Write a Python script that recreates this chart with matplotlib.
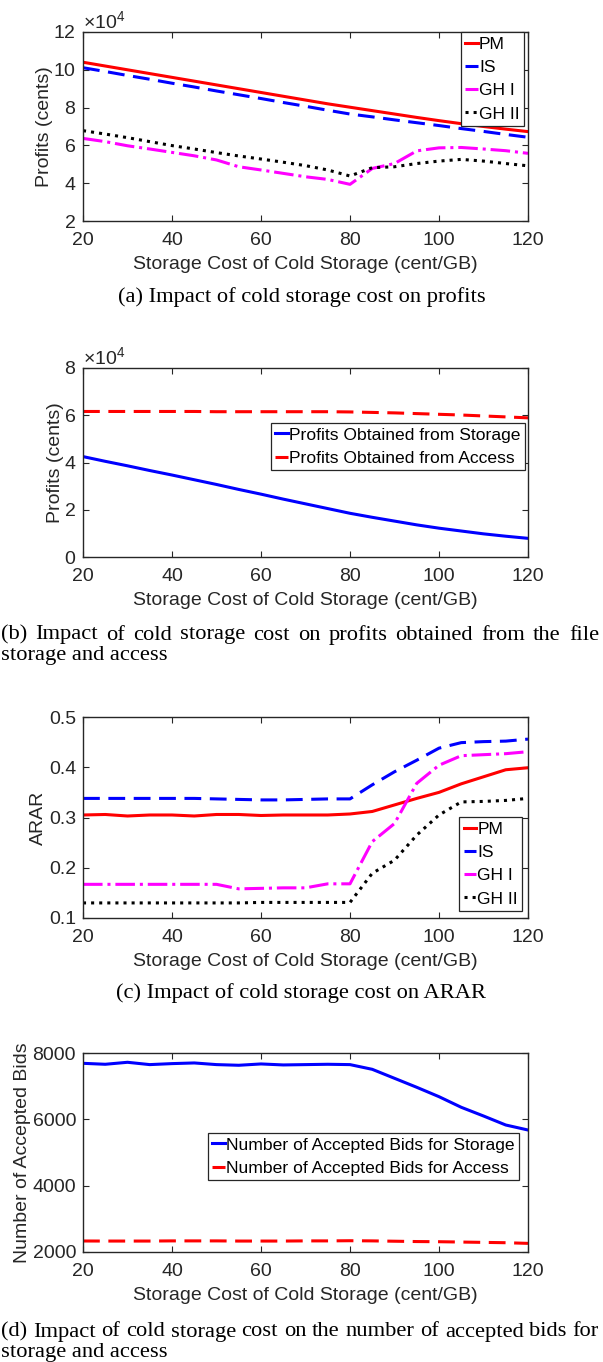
import numpy as np
import matplotlib
matplotlib.use("Agg")
import matplotlib.pyplot as plt

# storage cost of cold storage (cent/GB)
storage_cost = [20, 25, 30, 35, 40, 45, 50, 55, 60, 65, 70,
                75, 80, 85, 90, 95, 100, 105, 110, 115, 120]

# (a) profits, in units of 1e4 cents
pm_profit = [10.40, 10.20, 10.00, 9.80, 9.60, 9.40, 9.20, 9.00, 8.80, 8.60, 8.40,
             8.20, 8.02, 7.84, 7.66, 7.48, 7.31, 7.15, 7.00, 6.86, 6.73]
is_profit = [10.11, 9.91, 9.70, 9.50, 9.29, 9.09, 8.88, 8.68, 8.48, 8.27, 8.07,
             7.86, 7.66, 7.51, 7.35, 7.20, 7.05, 6.89, 6.74, 6.58, 6.43]
gh1_profit = [6.37, 6.20, 5.98, 5.81, 5.63, 5.45, 5.23, 4.87, 4.70, 4.52, 4.34,
              4.20, 3.94, 4.78, 5.04, 5.71, 5.87, 5.89, 5.81, 5.72, 5.58]
gh2_profit = [6.78, 6.60, 6.41, 6.20, 5.99, 5.81, 5.62, 5.44, 5.28, 5.11, 4.93,
              4.70, 4.38, 4.82, 4.87, 5.04, 5.17, 5.26, 5.17, 5.04, 4.92]

# (b) profits from storage / access, in units of 1e4 cents
storage_profit = [4.25, 4.05, 3.86, 3.66, 3.47, 3.27, 3.07, 2.86, 2.66, 2.45, 2.25,
                  2.05, 1.85, 1.68, 1.52, 1.36, 1.22, 1.10, 0.98, 0.88, 0.79]
access_profit = [6.16, 6.16, 6.16, 6.16, 6.16, 6.16, 6.15, 6.15, 6.15, 6.15, 6.15,
                 6.15, 6.14, 6.12, 6.10, 6.07, 6.04, 6.01, 5.97, 5.93, 5.89]

# (c) ARAR
pm_arar = [0.305, 0.306, 0.303, 0.305, 0.305, 0.303, 0.306, 0.306, 0.304, 0.305, 0.305,
           0.305, 0.307, 0.312, 0.325, 0.338, 0.350, 0.367, 0.381, 0.395, 0.399]
is_arar = [0.338, 0.338, 0.338, 0.338, 0.338, 0.338, 0.337, 0.336, 0.335, 0.335, 0.336,
           0.337, 0.337, 0.365, 0.391, 0.414, 0.438, 0.449, 0.451, 0.452, 0.456]
gh1_arar = [0.167, 0.167, 0.167, 0.167, 0.167, 0.167, 0.167, 0.158, 0.159, 0.160, 0.160,
            0.168, 0.168, 0.252, 0.288, 0.368, 0.404, 0.423, 0.425, 0.427, 0.431]
gh2_arar = [0.130, 0.130, 0.130, 0.130, 0.130, 0.130, 0.130, 0.130, 0.131, 0.131, 0.131,
            0.131, 0.131, 0.189, 0.215, 0.265, 0.305, 0.331, 0.332, 0.334, 0.338]

# (d) number of accepted bids
storage_bids = [7689, 7660, 7720, 7650, 7680, 7700, 7650, 7630, 7670, 7640, 7650,
                7660, 7650, 7508, 7237, 6966, 6683, 6363, 6101, 5829, 5678]
access_bids = [2332, 2330, 2330, 2330, 2335, 2335, 2335, 2330, 2330, 2330, 2335,
               2335, 2340, 2335, 2325, 2315, 2310, 2300, 2290, 2280, 2260]

captions_a = ["(a) Impact of cold storage cost on profits"]
captions_b = ["(b) Impact of cold storage cost on profits obtained from the file",
              "storage and access"]
captions_c = ["(c) Impact of cold storage cost on ARAR"]
captions_d = ["(d) Impact of cold storage cost on the number of accepted bids for",
              "storage and access"]

plt.rcParams["font.family"] = ["Liberation Sans", "DejaVu Sans"]
plt.rcParams["mathtext.fontset"] = "custom"
plt.rcParams["mathtext.rm"] = "Liberation Sans"

W, H = 603, 1362
FS = 14
LFS = 12.6
GREY = "#262626"
LW = 2.2
DASH = (5.5, 2.8)

fig = plt.figure(figsize=(W / 100, H / 100), dpi=100)


def make_axes(top, bottom):
    ax = fig.add_axes([83 / W, 1 - bottom / H, 445 / W, (bottom - top) / H])
    for s in ax.spines.values():
        s.set_color(GREY)
        s.set_linewidth(1.0)
    ax.tick_params(direction="in", top=True, right=True, length=4.5,
                   width=0.8, colors=GREY, labelsize=FS)
    ax.tick_params(axis="x", pad=8)
    ax.tick_params(axis="y", pad=5)
    ax.set_xlim(20, 120)
    ax.set_xticks([20, 40, 60, 80, 100, 120])
    ax.set_xlabel("Storage Cost of Cold Storage (cent/GB)", fontsize=FS,
                  color=GREY, labelpad=5)
    return ax


def legend(ax, x, y):
    leg = ax.legend(loc="upper right", bbox_to_anchor=(x, y), fontsize=LFS,
                    handlelength=0.7, handletextpad=0.08, borderpad=0.25,
                    labelspacing=0.46, borderaxespad=0, fancybox=False,
                    framealpha=1, edgecolor=GREY)
    leg.get_frame().set_linewidth(0.9)
    for t in leg.get_texts():
        t.set_color("black")
    return leg


def sci_axis(ax):
    ax.ticklabel_format(axis="y", style="sci", scilimits=(4, 4), useMathText=True)
    ax.yaxis.get_offset_text().set_fontsize(FS)
    ax.yaxis.get_offset_text().set_color(GREY)


x = np.array(storage_cost)

# (a)
ax = make_axes(32, 221)
ax.plot(x, np.array(pm_profit) * 1e4, color="red", lw=LW, label="PM")
ax.plot(x, np.array(is_profit) * 1e4, color="blue", lw=LW, dashes=DASH, label="IS")
ax.plot(x, np.array(gh1_profit) * 1e4, color="magenta", lw=LW, ls="-.", label="GH I")
ax.plot(x, np.array(gh2_profit) * 1e4, color="black", lw=LW, ls=":", label="GH II")
ax.set_ylim(2e4, 12e4)
ax.set_yticks([2e4, 4e4, 6e4, 8e4, 10e4, 12e4])
sci_axis(ax)
ax.set_ylabel("Profits (cents)", fontsize=FS, color=GREY, labelpad=0)
legend(ax, 0.991, 1.0)

# (b)
ax = make_axes(368, 557)
ax.plot(x, np.array(storage_profit) * 1e4, color="blue", lw=LW,
        label="Profits Obtained from Storage")
ax.plot(x, np.array(access_profit) * 1e4, color="red", lw=LW, dashes=DASH,
        label="Profits Obtained from Access")
ax.set_ylim(0, 8e4)
ax.set_yticks([0, 2e4, 4e4, 6e4, 8e4])
sci_axis(ax)
ax.set_ylabel("Profits (cents)", fontsize=FS, color=GREY, labelpad=0)
legend(ax, 0.993, 0.709)

# (c)
ax = make_axes(717, 918)
ax.plot(x, pm_arar, color="red", lw=LW, label="PM")
ax.plot(x, is_arar, color="blue", lw=LW, dashes=DASH, label="IS")
ax.plot(x, gh1_arar, color="magenta", lw=LW, ls="-.", label="GH I")
ax.plot(x, gh2_arar, color="black", lw=LW, ls=":", label="GH II")
ax.set_ylim(0.1, 0.5)
ax.set_yticks([0.1, 0.2, 0.3, 0.4, 0.5])
ax.set_ylabel("ARAR", fontsize=FS, color=GREY, labelpad=1.5)
legend(ax, 0.987, 0.502)

# (d)
ax = make_axes(1053, 1252)
ax.plot(x, storage_bids, color="blue", lw=LW,
        label="Number of Accepted Bids for Storage")
ax.plot(x, access_bids, color="red", lw=LW, dashes=DASH,
        label="Number of Accepted Bids for Access")
ax.set_ylim(2000, 8000)
ax.set_yticks([2000, 4000, 6000, 8000])
ax.set_ylabel("Number of Accepted Bids", fontsize=FS, color=GREY, labelpad=1)
legend(ax, 0.98, 0.598)

# captions
CFS = 16.2
CFONT = ["Liberation Serif", "DejaVu Serif"]


def centered_caption(text, y_px):
    fig.text(0.5, 1 - y_px / H, text, ha="center", va="center",
             fontsize=CFS, family=CFONT)


def justified_caption(lines, y_px, step_px, x0=1, x1=599):
    renderer = fig.canvas.get_renderer()
    # first line spread over the full width
    words = lines[0].split()
    texts = [fig.text(0, 1 - y_px / H, w, ha="left", va="center",
                      fontsize=CFS, family=CFONT) for w in words]
    widths = [t.get_window_extent(renderer).width for t in texts]
    gap = (x1 - x0 - sum(widths)) / (len(words) - 1)
    pos = x0
    for t, w in zip(texts, widths):
        t.set_x(pos / W)
        pos += w + gap
    # last line left aligned
    fig.text(x0 / W, 1 - (y_px + step_px) / H, lines[1], ha="left",
             va="center", fontsize=CFS, family=CFONT)


centered_caption(captions_a[0], 297)
justified_caption(captions_b, 635, 20)
centered_caption(captions_c[0], 993)
justified_caption(captions_d, 1332, 21)

fig.savefig("out.png", dpi=100)
